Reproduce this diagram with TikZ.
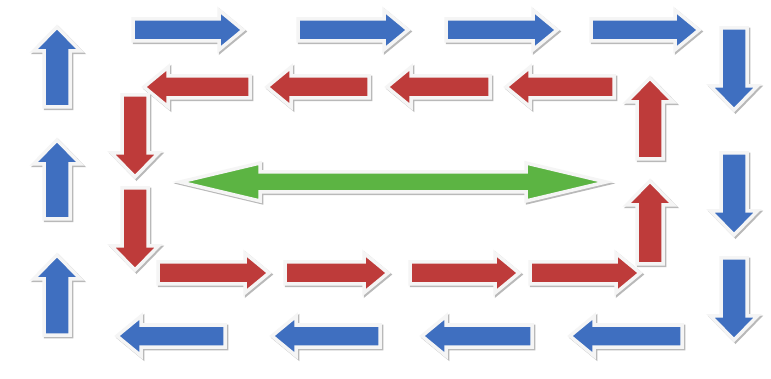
\documentclass[tikz,border=0pt]{standalone}
\definecolor{flowblue}{HTML}{3F6FC0}
\definecolor{flowred}{HTML}{BE3B3A}
\definecolor{flowgreen}{HTML}{5CB443}
\tikzset{
  arrowshadow/.style={fill=gray!55, draw=gray!55, line width=3.5pt, line join=miter},
  arrowbody/.style={draw=gray!8, line width=3.5pt, line join=miter},
}
% #1 shaft half width, #2 colour, #3 tail, #4 direction, #5 length
\newcommand{\flowarrow}[5][11]{%
  \begin{scope}[shift={#3}]
    \begin{scope}[xshift=1.5pt, yshift=-1.5pt, rotate=#4]
      \draw[arrowshadow] (0,-#1) -- ({#5-24},-#1) -- ({#5-24},{-1.8*#1}) -- (#5,0)
        -- ({#5-24},{1.8*#1}) -- ({#5-24},#1) -- (0,#1) -- cycle;
    \end{scope}
    \begin{scope}[rotate=#4]
      \draw[arrowbody, fill=#2] (0,-#1) -- ({#5-24},-#1) -- ({#5-24},{-1.8*#1}) -- (#5,0)
        -- ({#5-24},{1.8*#1}) -- ({#5-24},#1) -- (0,#1) -- cycle;
    \end{scope}
  \end{scope}}
\begin{document}
\begin{tikzpicture}[x=1pt, y=-1pt]
  \useasboundingbox[fill=white] (0,0) rectangle (771,379);
  % outer ring
  \flowarrow{flowblue}{(133,30)}{0}{110}
  \flowarrow{flowblue}{(298,30)}{0}{110}
  \flowarrow{flowblue}{(446,30)}{0}{111}
  \flowarrow{flowblue}{(591,30)}{0}{108}
  \flowarrow[13]{flowblue}{(734,28)}{-90}{82}
  \flowarrow[13]{flowblue}{(734,153)}{-90}{82}
  \flowarrow[13]{flowblue}{(734,258)}{-90}{82}
  \flowarrow{flowblue}{(682,336)}{180}{112}
  \flowarrow{flowblue}{(532,336)}{180}{110}
  \flowarrow{flowblue}{(380,336)}{180}{108}
  \flowarrow{flowblue}{(225,336)}{180}{108}
  \flowarrow[13]{flowblue}{(57,335)}{90}{80}
  \flowarrow[13]{flowblue}{(57,219)}{90}{79}
  \flowarrow[13]{flowblue}{(57,107)}{90}{80}
  % inner ring
  \flowarrow{flowred}{(614,87)}{180}{108}
  \flowarrow{flowred}{(490,87)}{180}{103}
  \flowarrow{flowred}{(369,87)}{180}{102}
  \flowarrow{flowred}{(250,87)}{180}{106}
  \flowarrow[13]{flowred}{(135,95)}{-90}{82}
  \flowarrow[13]{flowred}{(135,188)}{-90}{82}
  \flowarrow{flowred}{(158,273)}{0}{111}
  \flowarrow{flowred}{(285,273)}{0}{103}
  \flowarrow{flowred}{(410,273)}{0}{109}
  \flowarrow{flowred}{(530,273)}{0}{110}
  \flowarrow[13]{flowred}{(650,264)}{90}{83}
  \flowarrow[13]{flowred}{(650,159)}{90}{81}
  % centre
  \begin{scope}[xshift=1.5pt, yshift=-1.5pt]
    \draw[arrowshadow] (180,182) -- (260,163) -- (260,172) -- (526,172) -- (526,163) -- (606,182)
      -- (526,201) -- (526,192) -- (260,192) -- (260,201) -- cycle;
  \end{scope}
  \draw[arrowbody, fill=flowgreen] (180,182) -- (260,163) -- (260,172) -- (526,172) -- (526,163) -- (606,182)
    -- (526,201) -- (526,192) -- (260,192) -- (260,201) -- cycle;
\end{tikzpicture}
\end{document}
